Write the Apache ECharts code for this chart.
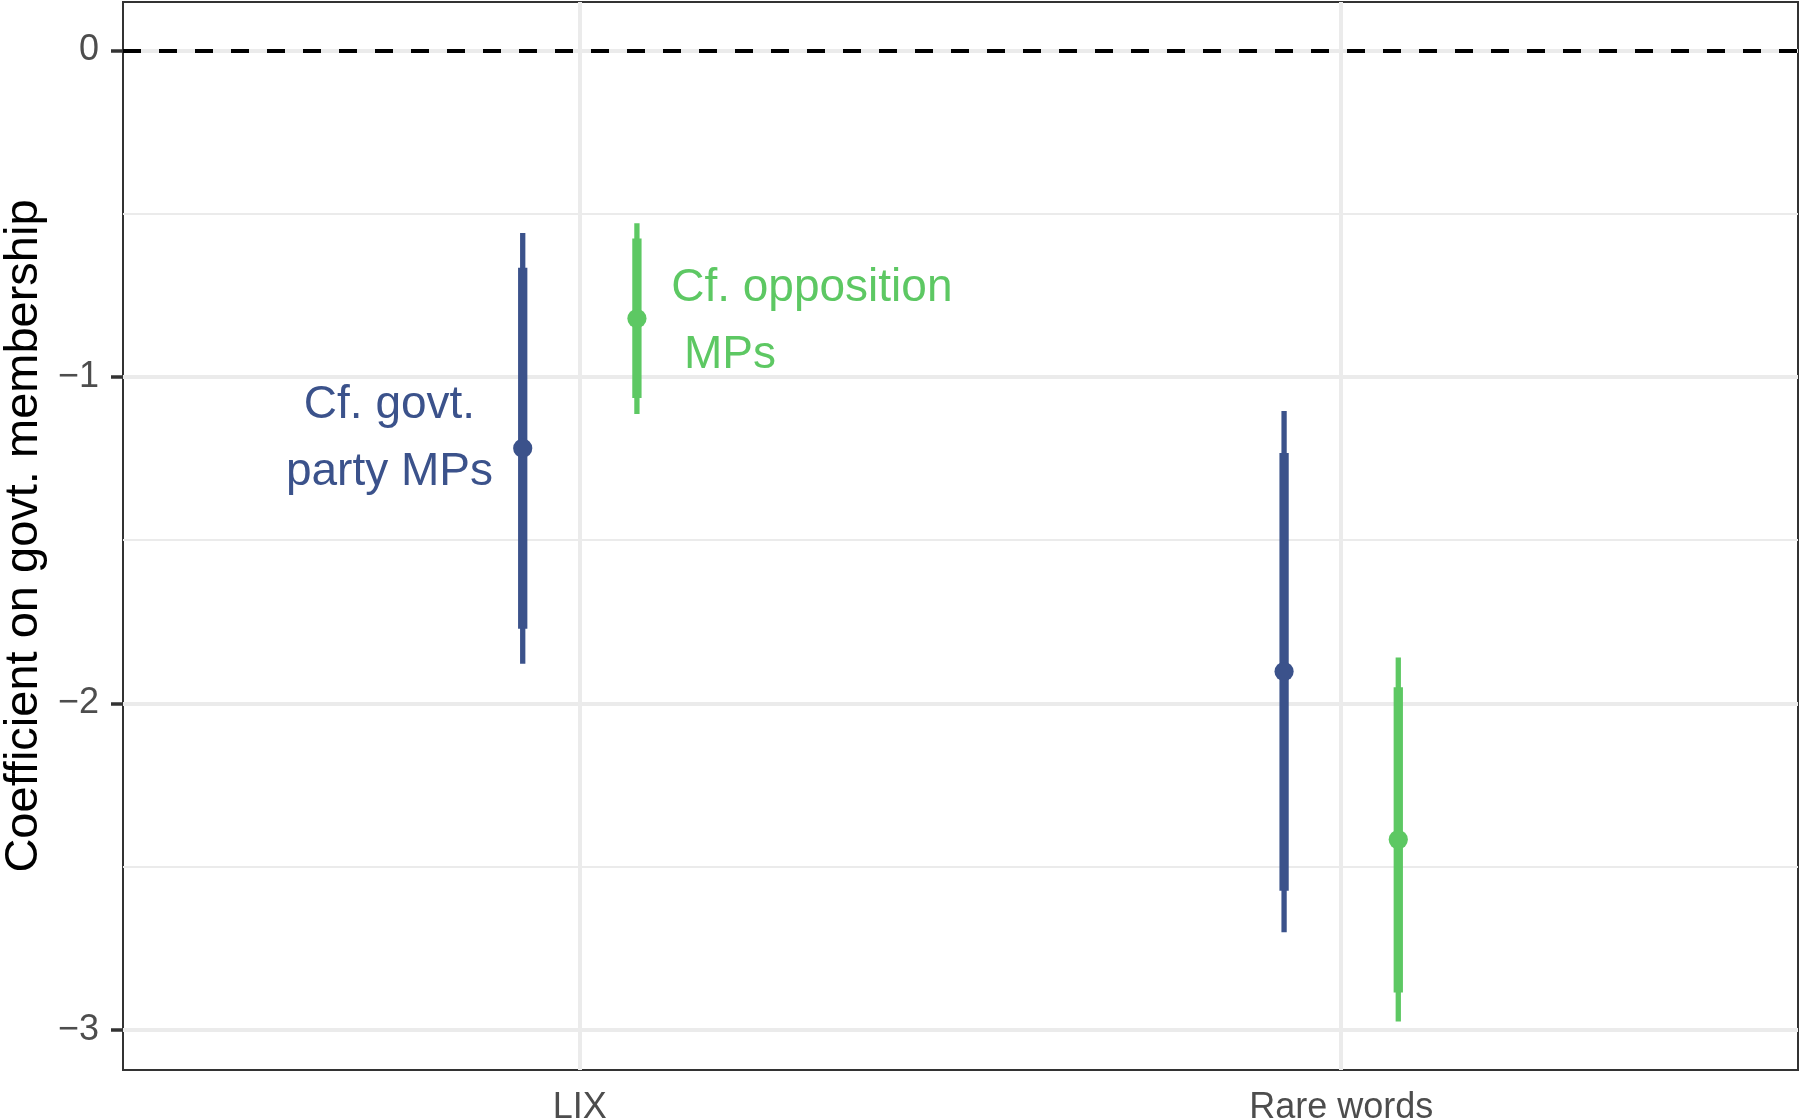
<!DOCTYPE html>
<html>
<head>
<meta charset="utf-8">
<script src="https://cdn.jsdelivr.net/npm/echarts@6/dist/echarts.min.js"></script>
<style>
  html, body { margin: 0; padding: 0; background: #fff; }
  #chart { width: 1800px; height: 1120px; }
</style>
</head>
<body>
<div id="chart"></div>
<script>
// ---- data ----
const categories = ['LIX', 'Rare words'];

const govtEst     = [-1.218, -1.902];
const govtInnerLo = [-1.771, -2.574];
const govtInnerHi = [-0.665, -1.233];
const govtOuterLo = [-1.878, -2.701];
const govtOuterHi = [-0.559, -1.104];

const oppEst      = [-0.821, -2.417];
const oppInnerLo  = [-1.064, -2.885];
const oppInnerHi  = [-0.576, -1.950];
const oppOuterLo  = [-1.113, -2.974];
const oppOuterHi  = [-0.529, -1.859];

const yTickValues = [0, -1, -2, -3];
const yMinorValues = [-0.5, -1.5, -2.5];

const govtLabel = 'Cf. govt.\nparty MPs';
const oppLabel  = 'Cf. opposition\n MPs';

// ---- styling / layout ----
const BLUE = '#3B528B';
const GREEN = '#5DC863';
const DODGE = 0.075;
const FONT = "'Liberation Sans', Arial, Helvetica, sans-serif";

const xs = categories.map((c, i) => i + 1);
const allVals = [0].concat(govtOuterLo, govtOuterHi, oppOuterLo, oppOuterHi);
const dMin = Math.min(...allVals), dMax = Math.max(...allVals);
const pad = (dMax - dMin) * 0.05;

function buildSeriesData(est, ilo, ihi, olo, ohi, off) {
  return categories.map((c, i) => [xs[i] + off, est[i], ilo[i], ihi[i], olo[i], ohi[i]]);
}

function renderBar(color) {
  return function (params, api) {
    const x = api.value(0);
    const pEst = api.coord([x, api.value(1)]);
    const pIlo = api.coord([x, api.value(2)]);
    const pIhi = api.coord([x, api.value(3)]);
    const pOlo = api.coord([x, api.value(4)]);
    const pOhi = api.coord([x, api.value(5)]);
    return {
      type: 'group',
      children: [
        { type: 'line', shape: { x1: pOlo[0], y1: pOlo[1], x2: pOhi[0], y2: pOhi[1] },
          style: { stroke: color, lineWidth: 5.3 } },
        { type: 'line', shape: { x1: pIlo[0], y1: pIlo[1], x2: pIhi[0], y2: pIhi[1] },
          style: { stroke: color, lineWidth: 9.3 } },
        { type: 'circle', shape: { cx: pEst[0], cy: pEst[1], r: 9.6 },
          style: { fill: color } }
      ]
    };
  };
}

function textSeries(x, y, text, color, align) {
  return {
    type: 'custom',
    z: 6,
    silent: true,
    data: [[x, y]],
    renderItem: function (params, api) {
      const p = api.coord([api.value(0), api.value(1)]);
      return {
        type: 'text',
        x: p[0], y: p[1],
        style: {
          text: text, fill: color, font: '46px ' + FONT,
          fontSize: 46, fontFamily: FONT,
          align: align, verticalAlign: 'middle', lineHeight: 67
        }
      };
    }
  };
}

const gridLines = [];
yTickValues.forEach(v => gridLines.push({ yAxis: v, lineStyle: { width: 4 } }));
yMinorValues.forEach(v => gridLines.push({ yAxis: v, lineStyle: { width: 2 } }));
xs.forEach(v => gridLines.push({ xAxis: v, lineStyle: { width: 4 } }));

const chart = echarts.init(document.getElementById('chart'), null, { renderer: 'canvas' });
chart.setOption({
  backgroundColor: '#ffffff',
  animation: false,
  grid: {
    left: 123, right: 2, top: 2, bottom: 50,
    show: true, borderColor: '#333333', borderWidth: 2, backgroundColor: 'transparent',
    containLabel: false,
    outerBoundsMode: 'none'
  },
  xAxis: {
    type: 'value',
    min: 1 - 0.6,
    max: categories.length + 0.6,
    axisLine: { show: false },
    splitLine: { show: false },
    axisTick: { show: true, length: 12, customValues: xs, lineStyle: { color: '#333333', width: 3.5 } },
    axisLabel: {
      show: true, customValues: xs, margin: 20,
      color: '#4D4D4D', fontSize: 36, fontFamily: FONT,
      formatter: v => categories[Math.round(v) - 1] || ''
    }
  },
  yAxis: {
    type: 'value',
    min: dMin - pad,
    max: dMax + pad,
    axisLine: { show: false },
    splitLine: { show: false },
    axisTick: { show: true, length: 12, customValues: yTickValues, lineStyle: { color: '#333333', width: 3.5 } },
    axisLabel: {
      show: true, customValues: yTickValues, margin: 24,
      color: '#4D4D4D', fontSize: 36, fontFamily: FONT,
      formatter: v => (v < 0 ? '\u2212' + Math.abs(v) : String(v))
    },
    name: 'Coefficient on govt. membership',
    nameLocation: 'middle',
    nameRotate: 90,
    nameGap: 75,
    nameTextStyle: { color: '#000000', fontSize: 47, fontFamily: FONT }
  },
  series: [
    {
      type: 'line',
      data: [],
      z: 1,
      silent: true,
      markLine: {
        silent: true, symbol: 'none', label: { show: false },
        lineStyle: { color: '#EBEBEB', type: 'solid' },
        data: gridLines
      }
    },
    {
      type: 'line',
      data: [],
      z: 2,
      silent: true,
      markLine: {
        silent: true, symbol: 'none', label: { show: false },
        lineStyle: { color: '#000000', type: [18, 18], width: 4 },
        data: [{ yAxis: 0 }]
      }
    },
    {
      type: 'custom', z: 5, silent: true,
      renderItem: renderBar(BLUE),
      data: buildSeriesData(govtEst, govtInnerLo, govtInnerHi, govtOuterLo, govtOuterHi, -DODGE)
    },
    {
      type: 'custom', z: 5, silent: true,
      renderItem: renderBar(GREEN),
      data: buildSeriesData(oppEst, oppInnerLo, oppInnerHi, oppOuterLo, oppOuterHi, DODGE)
    },
    textSeries(0.75, -1.188, govtLabel, BLUE, 'center'),
    textSeries(1.12, -0.832, oppLabel, GREEN, 'left')
  ]
});
</script>
</body>
</html>
